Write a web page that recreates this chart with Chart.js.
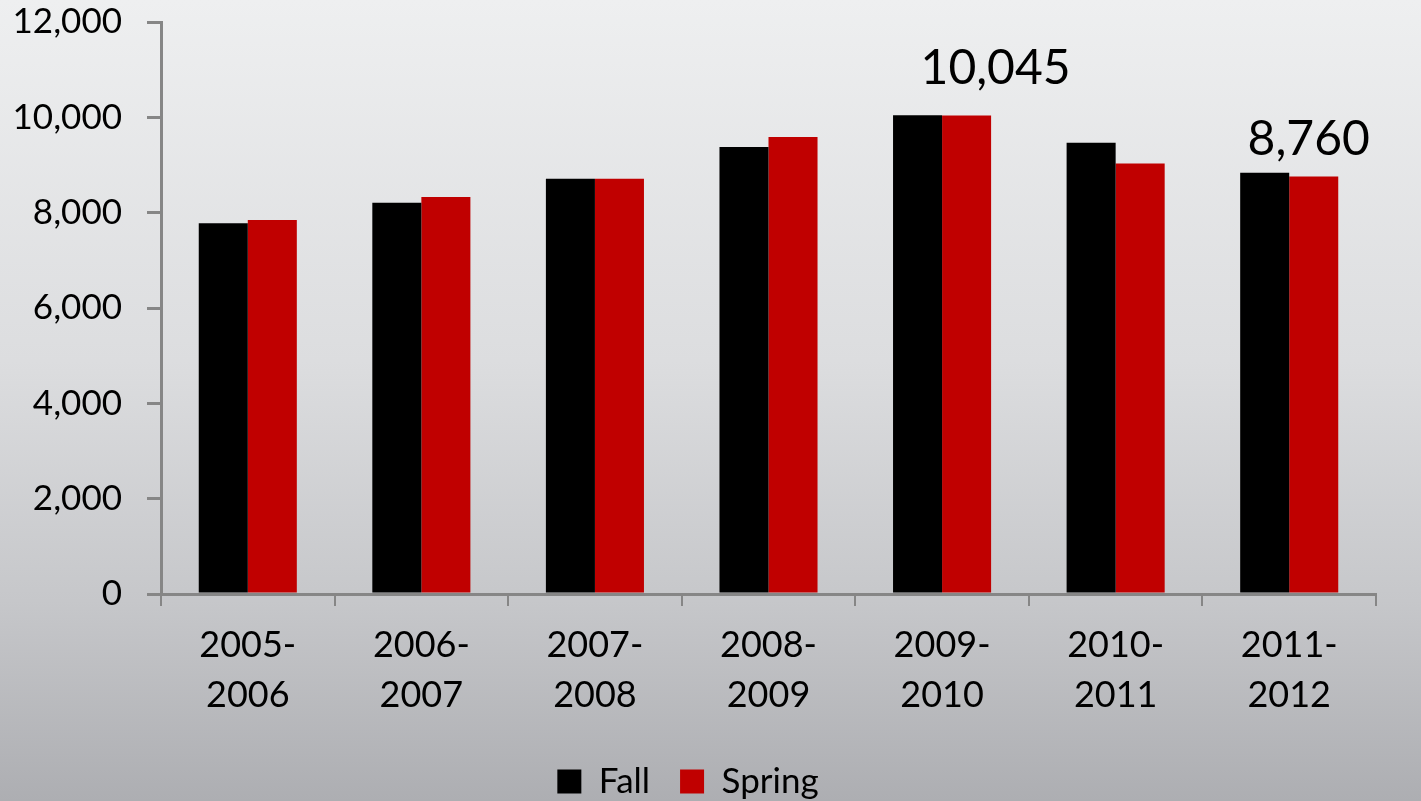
<!DOCTYPE html>
<html>
<head>
<meta charset="utf-8">
<script src="https://cdn.jsdelivr.net/npm/chart.js@4"></script>
<style>
    html, body { margin: 0; padding: 0; }
    body {
        width: 1421px; height: 801px; overflow: hidden;
        background: linear-gradient(to bottom, #eeeff0 0%, #dcdddf 45%, #c6c7ca 75%, #adaeb2 100%);
    }
    #wrap { position: relative; width: 1421px; height: 801px; }
</style>
</head>
<body>
<div id="wrap"><canvas id="chart-matriculas"></canvas></div>
<script>
// dados
const anos = [
    ['2005-', '2006'], ['2006-', '2007'], ['2007-', '2008'], ['2008-', '2009'],
    ['2009-', '2010'], ['2010-', '2011'], ['2011-', '2012']
];
const fall = [7780, 8210, 8710, 9380, 10045, 9465, 8840];
const spring = [7845, 8330, 8710, 9590, 10040, 9030, 8760];
const destaques = [
    { serie: 1, indice: 4, texto: '10,045' },
    { serie: 1, indice: 6, texto: '8,760' }
];

const fonte = 'Lato, "Open Sans", sans-serif';
const cinzaEixo = '#868686';

// rótulos grandes sobre algumas barras
const destaquePlugin = {
    id: 'destaques',
    afterDatasetsDraw(chart, args, opts) {
        const ctx = chart.ctx;
        ctx.save();
        ctx.font = '48px ' + fonte;
        ctx.fillStyle = '#000';
        ctx.textAlign = 'center';
        ctx.textBaseline = 'alphabetic';
        destaques.forEach((d, i) => {
            const bar = chart.getDatasetMeta(d.serie).data[d.indice];
            const dx = opts.dx[i] || 0;
            ctx.fillText(d.texto, bar.x + dx, bar.y - opts.gap[i]);
        });
        ctx.restore();
    }
};

new Chart(document.getElementById('chart-matriculas'), {
    type: 'bar',
    data: {
        labels: anos,
        datasets: [
            {
                label: 'Fall',
                data: fall,
                backgroundColor: '#000000'
            },
            {
                label: 'Spring',
                data: spring,
                backgroundColor: '#c00000'
            }
        ]
    },
    options: {
        responsive: true,
        maintainAspectRatio: false,
        animation: false,
        categoryPercentage: 0.565,
        barPercentage: 1.0,
        layout: { padding: { top: 22, right: 45, left: 0, bottom: -8 } },
        scales: {
            x: {
                afterFit(scale) { scale.height = 140; },
                grid: {
                    drawOnChartArea: false,
                    drawTicks: true,
                    tickLength: 12,
                    color: cinzaEixo,
                    lineWidth: 2
                },
                border: { color: cinzaEixo, width: 3 },
                ticks: {
                    color: '#000',
                    font: { family: fonte, size: 36, lineHeight: 1.4 },
                    padding: 14,
                    maxRotation: 0
                }
            },
            y: {
                min: 0,
                max: 12000,
                afterFit(scale) {
                    scale.width = 161;
                    scale.paddingTop = 0;
                    scale.paddingBottom = 0;
                },
                grid: {
                    drawOnChartArea: false,
                    drawTicks: true,
                    tickLength: 14,
                    color: cinzaEixo,
                    lineWidth: 3
                },
                border: { color: cinzaEixo, width: 3 },
                ticks: {
                    stepSize: 2000,
                    color: '#000',
                    font: { family: fonte, size: 35 },
                    padding: 25,
                    callback: v => v.toLocaleString('en-US')
                }
            }
        },
        plugins: {
            legend: {
                position: 'bottom',
                labels: {
                    color: '#000',
                    font: { family: fonte, size: 35 },
                    boxWidth: 24,
                    boxHeight: 24,
                    padding: 30,
                    useBorderRadius: false
                }
            },
            tooltip: { enabled: false },
            destaques: { dx: [29, -5], gap: [31, 21] }
        }
    },
    plugins: [destaquePlugin]
});
</script>
</body>
</html>
